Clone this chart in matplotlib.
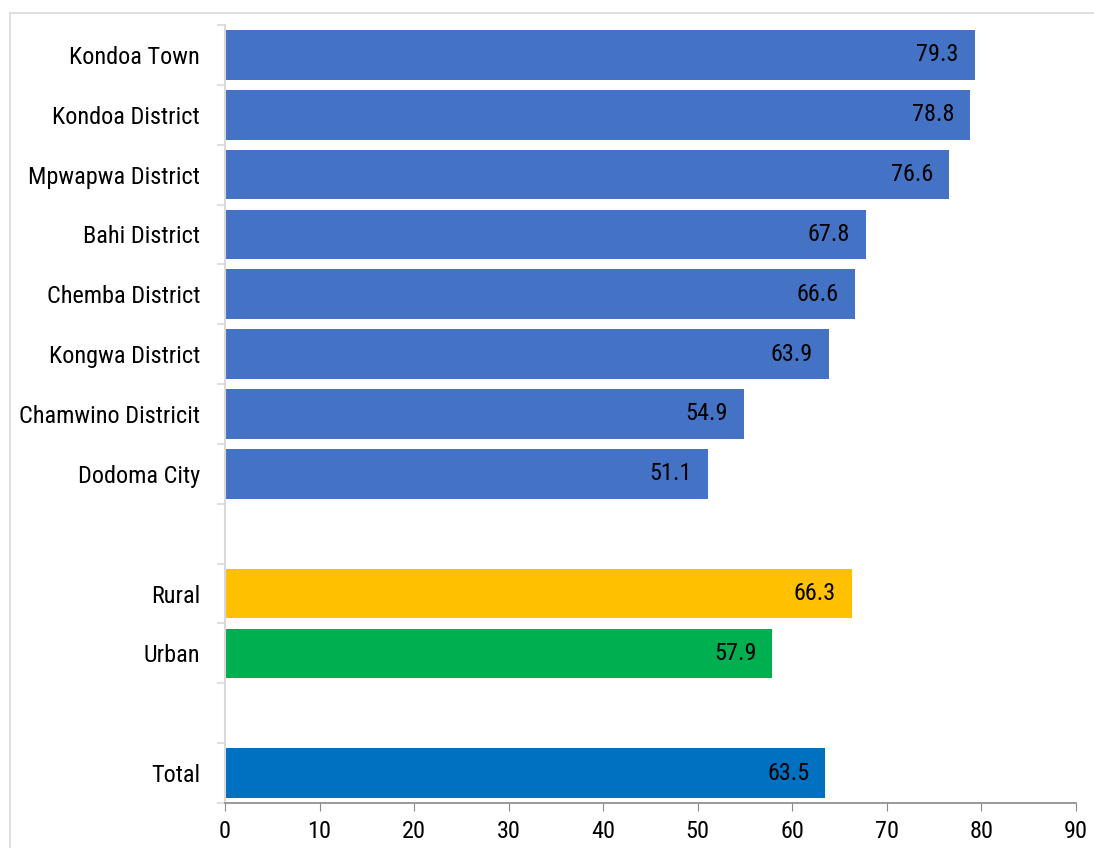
import matplotlib
matplotlib.use("Agg")
import matplotlib.pyplot as plt
from matplotlib import font_manager
from matplotlib.patches import Rectangle

installed = {f.name for f in font_manager.fontManager.ttflist}
narrow = [f for f in ['Liberation Sans Narrow', 'Arial Narrow', 'Roboto Condensed'] if f in installed]
if narrow:
    plt.rcParams['font.family'] = [narrow[0], 'DejaVu Sans']
    fs = 17.5
else:
    plt.rcParams['font.family'] = ['Roboto', 'DejaVu Sans']
    fs = 16.5

districts = ['Kondoa Town', 'Kondoa District', 'Mpwapwa District', 'Bahi District',
             'Chemba District', 'Kongwa District', 'Chamwino Districit', 'Dodoma City']
district_values = [79.3, 78.8, 76.6, 67.8, 66.6, 63.9, 54.9, 51.1]
areas = ['Rural', 'Urban']
area_values = [66.3, 57.9]
total_label = ['Total']
total_value = [63.5]

district_color = '#4472C4'
area_colors = ['#FFC000', '#00B050']
total_color = '#0070C0'

# row positions from top, with one blank row between groups
district_pos = list(range(len(districts)))
area_pos = [len(districts) + 1 + i for i in range(len(areas))]
total_pos = [area_pos[-1] + 2]
n_rows = total_pos[-1] + 1

fig = plt.figure(figsize=(10.94, 8.48), dpi=100)
ax = fig.add_axes([225 / 1094, 1 - 803 / 848, (1076 - 225) / 1094, (803 - 25) / 848])

fig.patches.append(Rectangle((9.5 / 1094, -0.1), 1.2, 1 - 12.5 / 848 + 0.1,
                             transform=fig.transFigure, fill=False,
                             edgecolor='#d9d9d9', linewidth=1.2))

h = 0.83
bars = []
bars.append(ax.barh(district_pos, district_values, height=h, color=district_color))
bars.append(ax.barh(area_pos, area_values, height=h, color=area_colors))
bars.append(ax.barh(total_pos, total_value, height=h, color=total_color))

for bc in bars:
    for rect in bc:
        w = rect.get_width()
        ax.annotate('%.1f' % w, xy=(w, rect.get_y() + rect.get_height() / 2),
                    xytext=(-11.5, 0), textcoords='offset points',
                    ha='right', va='center', fontsize=fs, color='black')

ax.set_xlim(0, 90)
ax.set_ylim(n_rows - 0.5, -0.5)
ax.set_xticks(range(0, 91, 10))
ax.tick_params(axis='x', labelsize=fs, length=6, color='#898989', pad=6)

ax.set_yticks(district_pos + area_pos + total_pos)
ax.set_yticklabels(districts + areas + total_label)
ax.tick_params(axis='y', which='major', length=0, labelsize=fs, pad=18)
ax.set_yticks([i - 0.5 for i in range(n_rows + 1)], minor=True)
ax.tick_params(axis='y', which='minor', length=6, color='#d9d9d9', width=1.2)

for s in ['top', 'right']:
    ax.spines[s].set_visible(False)
ax.spines['left'].set_color('#d9d9d9')
ax.spines['left'].set_linewidth(1.5)
ax.spines['bottom'].set_color('#898989')
ax.spines['bottom'].set_linewidth(1.2)

fig.savefig('out.png', dpi=100)
